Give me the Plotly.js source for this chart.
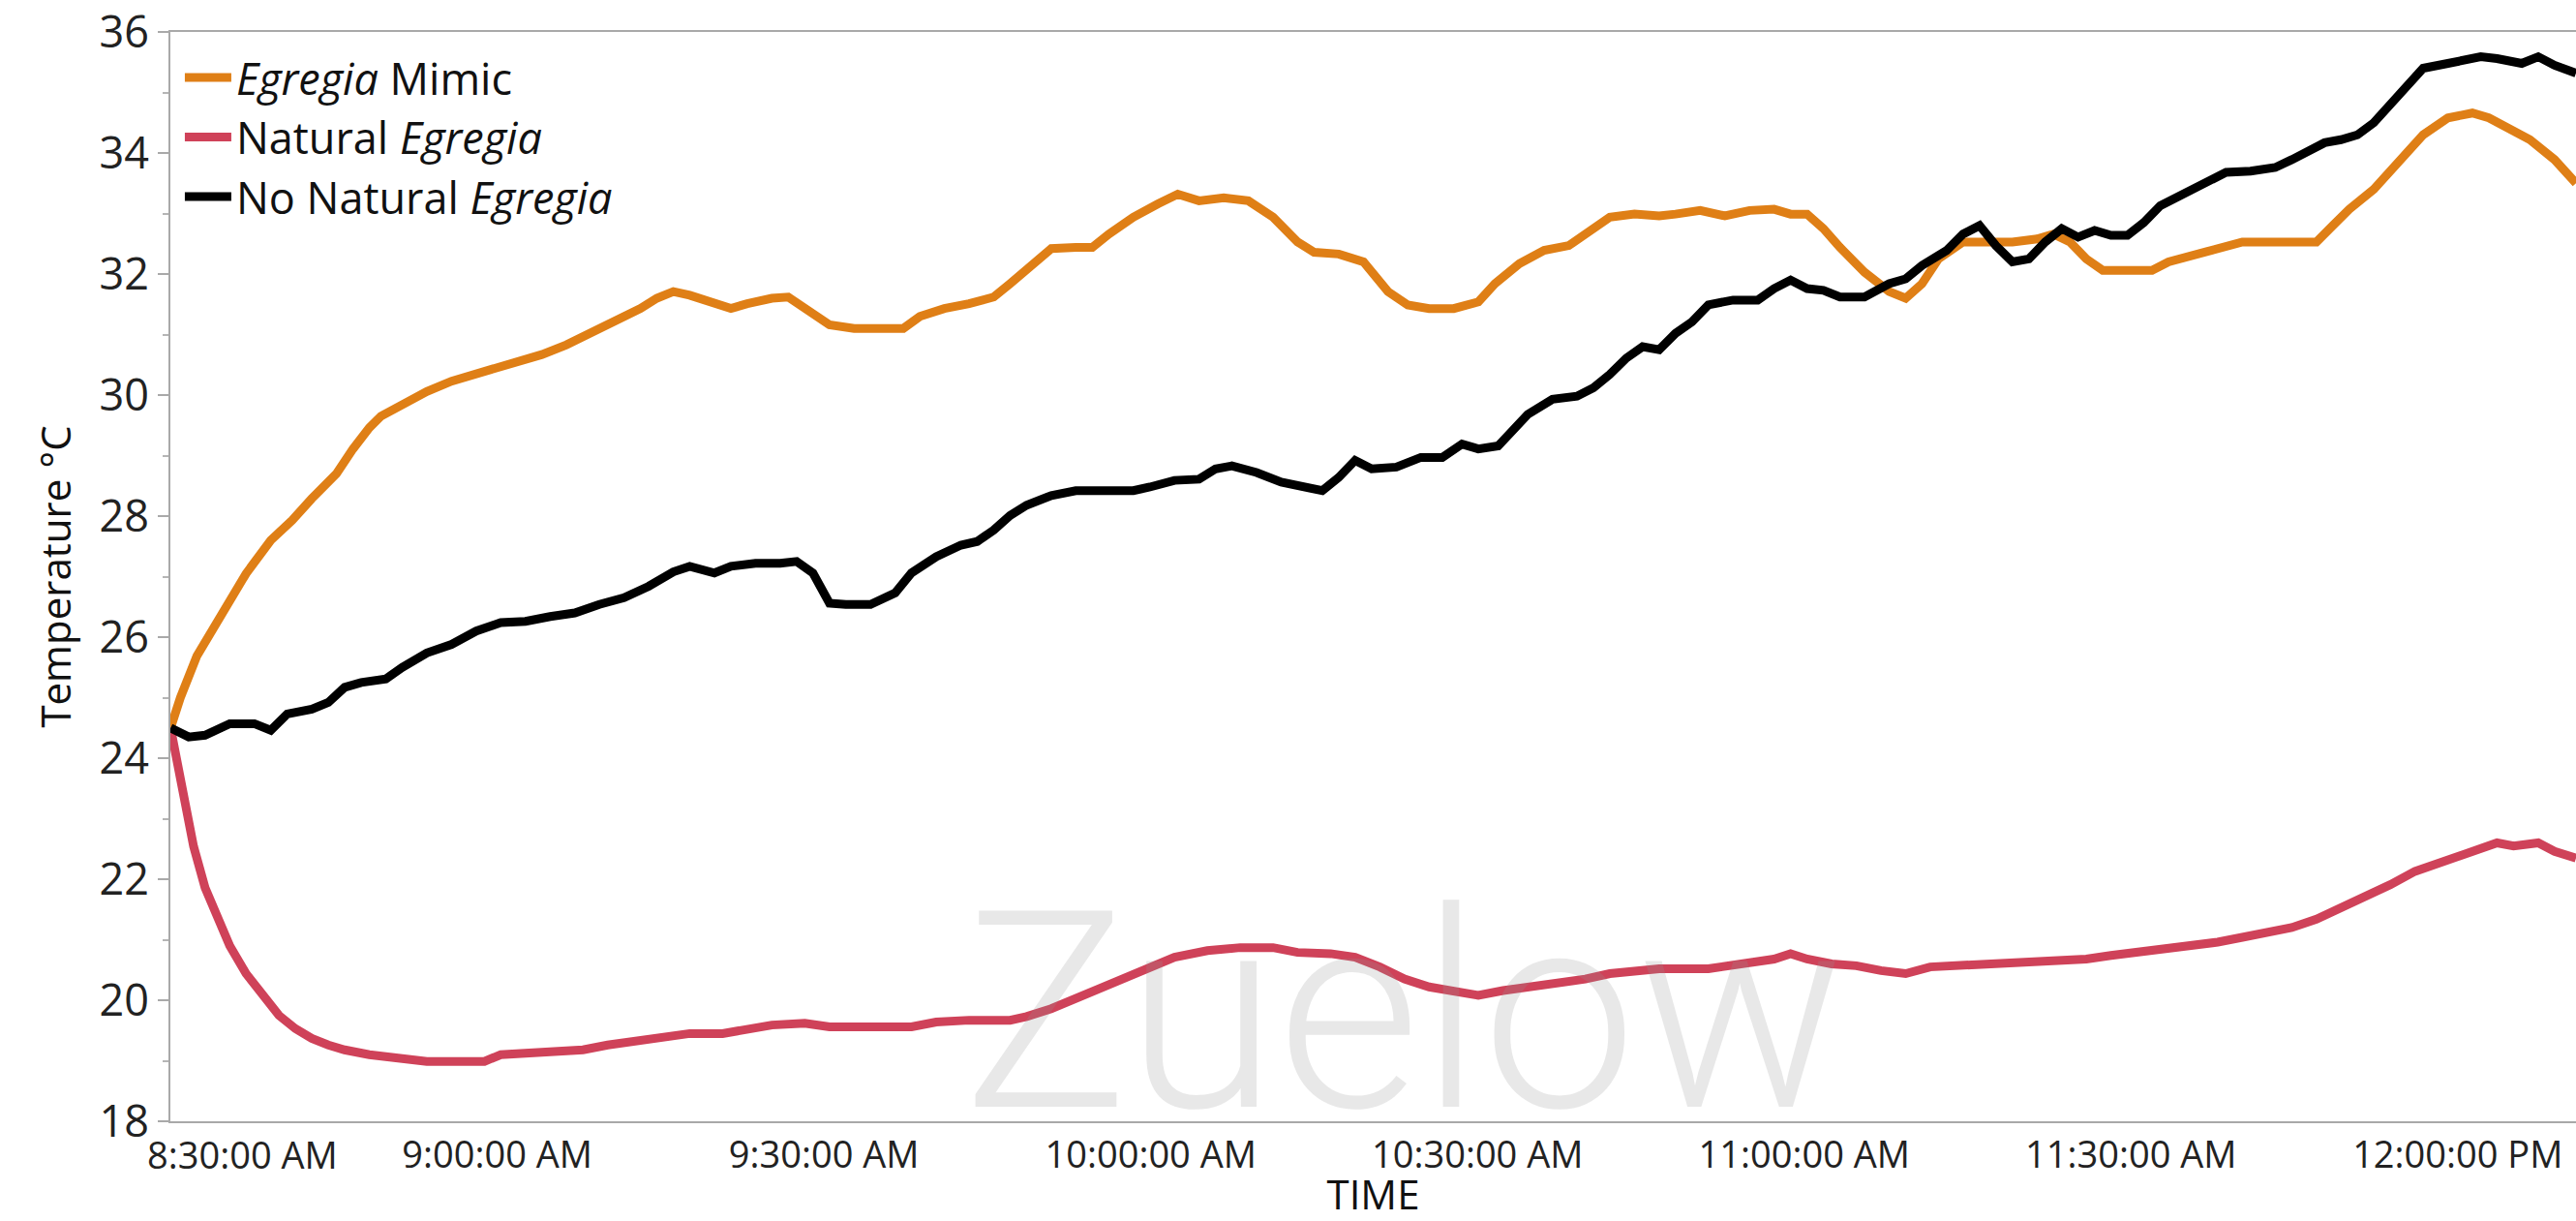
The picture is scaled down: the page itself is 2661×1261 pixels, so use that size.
<!DOCTYPE html>
<html>
<head>
<meta charset="utf-8">
<script src="https://cdn.plot.ly/plotly-3.0.1.min.js"></script>
<style>
  html, body { margin: 0; padding: 0; background: #ffffff; overflow: hidden; }
  #chart { width: 2661px; height: 1261px; }
</style>
</head>
<body>
<div id="chart"></div>
<script>
// ---------- data ----------
const DAY = "2000-01-01 ";

const seriesNames = ["<i>Egregia</i> Mimic", "Natural <i>Egregia</i>", "No Natural <i>Egregia</i>"];
const seriesColors = ["#DF7F16", "#CF4259", "#000000"];

const mimicTime = ["08:30:00","08:30:54","08:32:25","08:34:41","08:36:56","08:39:12","08:41:10","08:42:58","08:45:14","08:46:45","08:48:15","08:49:19","08:51:16","08:53:32","08:55:48","08:58:04","08:59:34","09:01:50","09:04:06","09:06:21","09:08:37","09:10:53","09:13:09","09:14:39","09:16:10","09:17:40","09:19:56","09:21:27","09:22:57","09:25:13","09:26:43","09:28:14","09:30:30","09:32:46","09:35:01","09:37:17","09:38:48","09:41:03","09:43:19","09:45:35","09:47:05","09:49:21","09:50:52","09:53:07","09:54:38","09:56:09","09:58:24","10:00:40","10:02:29","10:04:26","10:06:42","10:08:58","10:11:14","10:13:29","10:15:00","10:17:16","10:19:32","10:21:47","10:23:36","10:25:34","10:27:49","10:30:05","10:31:36","10:33:51","10:36:07","10:38:23","10:39:54","10:42:09","10:44:25","10:46:41","10:48:11","10:50:27","10:52:43","10:54:59","10:57:14","10:58:45","11:00:16","11:01:46","11:03:17","11:05:32","11:07:48","11:09:19","11:10:49","11:12:20","11:14:35","11:16:51","11:19:07","11:21:23","11:22:53","11:24:24","11:25:54","11:27:25","11:29:41","11:31:56","11:33:27","11:35:43","11:37:58","11:40:14","11:42:30","11:44:46","11:47:02","11:48:32","11:50:03","11:52:18","11:54:34","11:56:50","11:59:06","12:01:21","12:02:52","12:04:22","12:06:38","12:08:54","12:10:52"];
const mimicTemp = [24.5,25.0,25.69,26.37,27.05,27.6,27.93,28.29,28.7,29.11,29.46,29.65,29.85,30.06,30.23,30.34,30.42,30.56,30.67,30.83,31.02,31.21,31.43,31.6,31.71,31.65,31.54,31.43,31.51,31.6,31.62,31.43,31.16,31.1,31.1,31.1,31.3,31.43,31.51,31.62,31.84,32.17,32.42,32.44,32.44,32.66,32.94,33.16,33.32,33.21,33.26,33.21,32.94,32.53,32.36,32.33,32.2,31.71,31.49,31.43,31.43,31.54,31.84,32.17,32.39,32.47,32.66,32.94,32.99,32.96,32.99,33.05,32.96,33.05,33.07,32.99,32.99,32.75,32.44,32.03,31.71,31.6,31.84,32.25,32.53,32.53,32.53,32.58,32.66,32.53,32.25,32.06,32.06,32.06,32.2,32.31,32.39,32.53,32.53,32.53,32.53,32.8,33.07,33.4,33.84,34.3,34.58,34.66,34.58,34.44,34.22,33.89,33.5];

const naturalTime = ["08:30:00","08:30:36","08:31:21","08:32:07","08:33:10","08:34:22","08:35:26","08:36:56","08:38:27","08:39:57","08:41:28","08:42:58","08:44:29","08:45:59","08:48:15","08:50:31","08:53:32","08:56:33","08:58:49","09:00:19","09:02:35","09:05:36","09:07:52","09:10:08","09:12:24","09:14:39","09:17:40","09:20:41","09:22:57","09:25:13","09:28:14","09:30:30","09:34:16","09:38:02","09:40:18","09:43:19","09:47:05","09:48:36","09:50:52","09:53:07","09:55:23","09:57:39","09:59:55","10:02:11","10:05:12","10:08:13","10:11:14","10:13:29","10:16:31","10:18:46","10:21:02","10:23:18","10:25:34","10:27:49","10:30:05","10:32:21","10:34:37","10:37:38","10:39:54","10:42:09","10:44:25","10:46:41","10:51:12","10:53:28","10:54:59","10:57:14","10:58:45","11:00:16","11:02:31","11:04:47","11:07:03","11:09:19","11:11:34","11:13:50","11:16:51","11:19:07","11:21:23","11:23:39","11:25:54","11:28:10","11:30:26","11:33:27","11:35:43","11:37:58","11:40:14","11:42:30","11:44:46","11:47:02","11:49:17","11:51:33","11:53:49","11:56:05","11:58:20","12:00:36","12:02:07","12:03:37","12:05:08","12:07:24","12:08:54","12:10:52"];
const naturalTemp = [24.5,23.91,23.23,22.54,21.86,21.31,20.9,20.44,20.08,19.75,19.53,19.37,19.26,19.18,19.1,19.04,18.99,18.99,18.99,19.1,19.12,19.15,19.18,19.26,19.32,19.4,19.45,19.45,19.51,19.59,19.62,19.56,19.56,19.56,19.64,19.67,19.67,19.73,19.86,20.03,20.19,20.38,20.57,20.71,20.82,20.87,20.87,20.79,20.77,20.71,20.55,20.35,20.22,20.14,20.08,20.16,20.22,20.27,20.35,20.44,20.49,20.52,20.52,20.57,20.6,20.68,20.77,20.68,20.6,20.57,20.49,20.44,20.55,20.57,20.6,20.63,20.66,20.68,20.68,20.74,20.79,20.85,20.9,20.96,21.04,21.12,21.2,21.34,21.53,21.69,21.91,22.13,22.27,22.41,22.52,22.6,22.55,22.6,22.46,22.35];

const noNaturalTime = ["08:30:00","08:31:40","08:33:10","08:35:26","08:37:42","08:39:12","08:40:43","08:42:58","08:44:29","08:45:59","08:47:30","08:49:46","08:51:16","08:53:32","08:55:48","08:58:04","09:00:19","09:02:35","09:04:51","09:07:07","09:09:22","09:11:38","09:13:54","09:16:10","09:17:40","09:19:56","09:21:27","09:23:42","09:25:58","09:27:29","09:28:59","09:30:30","09:32:00","09:34:16","09:36:32","09:38:02","09:40:18","09:42:34","09:44:04","09:45:35","09:47:05","09:48:36","09:50:52","09:53:07","09:55:23","09:58:24","09:59:55","10:02:11","10:04:26","10:05:57","10:07:27","10:09:43","10:11:59","10:13:29","10:15:45","10:17:16","10:18:46","10:20:17","10:22:33","10:24:48","10:26:46","10:28:35","10:30:05","10:31:54","10:33:06","10:34:37","10:36:53","10:39:08","10:40:39","10:42:09","10:43:40","10:45:10","10:46:41","10:48:11","10:49:42","10:51:12","10:53:28","10:55:44","10:57:14","10:58:45","11:00:16","11:01:46","11:03:17","11:05:32","11:07:48","11:09:19","11:10:49","11:13:05","11:14:35","11:16:06","11:17:36","11:19:07","11:20:38","11:22:08","11:23:39","11:25:09","11:26:40","11:28:10","11:29:41","11:31:11","11:32:42","11:34:57","11:37:13","11:38:44","11:40:59","11:43:15","11:44:46","11:46:16","11:47:47","11:49:17","11:50:48","11:52:18","11:54:34","11:56:50","11:59:06","12:00:36","12:02:07","12:03:37","12:05:53","12:07:24","12:08:54","12:10:52"];
const noNaturalTemp = [24.5,24.35,24.38,24.57,24.57,24.46,24.73,24.81,24.92,25.17,25.25,25.31,25.5,25.74,25.88,26.1,26.24,26.26,26.34,26.4,26.54,26.65,26.84,27.08,27.17,27.06,27.17,27.22,27.22,27.25,27.06,26.56,26.54,26.54,26.73,27.06,27.33,27.52,27.58,27.77,28.01,28.18,28.34,28.42,28.42,28.42,28.48,28.59,28.61,28.78,28.83,28.72,28.56,28.51,28.42,28.64,28.92,28.78,28.81,28.97,28.97,29.19,29.11,29.16,29.38,29.68,29.93,29.98,30.12,30.34,30.61,30.8,30.75,31.02,31.21,31.49,31.57,31.57,31.76,31.9,31.76,31.73,31.62,31.62,31.84,31.92,32.14,32.39,32.66,32.8,32.47,32.2,32.25,32.53,32.75,32.61,32.72,32.64,32.64,32.85,33.13,33.35,33.57,33.68,33.7,33.76,33.89,34.03,34.17,34.22,34.3,34.5,34.93,35.4,35.48,35.54,35.59,35.56,35.48,35.59,35.45,35.32];

const tickTimes = ["08:30:00","09:00:00","09:30:00","10:00:00","10:30:00","11:00:00","11:30:00","12:00:00"];
const tickLabels = ["8:30:00 AM","9:00:00 AM","9:30:00 AM","10:00:00 AM","10:30:00 AM","11:00:00 AM","11:30:00 AM","12:00:00 PM"];
const xRange = ["08:29:59", "12:10:52"];
const yRange = [18, 36];

const xTitle = "TIME";
const yTitle = "Temperature °C";
const watermark = "Zuelow";

// ---------- build ----------
const toDate = arr => arr.map(t => DAY + t);
const FONT = "'Open Sans', 'Noto Sans', sans-serif";
const TICKFONT = { family: FONT, size: 38, color: "#222222" };

const timeArrays = [mimicTime, naturalTime, noNaturalTime];
const tempArrays = [mimicTemp, naturalTemp, noNaturalTemp];

const traces = seriesNames.map((name, i) => ({
  type: "scatter",
  mode: "lines",
  name: name,
  x: toDate(timeArrays[i]),
  y: tempArrays[i],
  line: { color: seriesColors[i], width: 9, shape: "linear" },
  hoverinfo: "x+y+name"
}));

// The first label is drawn nudged right of its tick (inside the axis extent), as in the reference.
const tickText = tickLabels.map((s, i) => (i === 0 ? "" : s));

const layout = {
  width: 2661,
  height: 1261,
  margin: { l: 176, r: 0, t: 33, b: 103, pad: 0 },
  paper_bgcolor: "#ffffff",
  plot_bgcolor: "#ffffff",
  font: { family: FONT, color: "#222222" },
  showlegend: true,
  legend: {
    x: 0.004, y: 0.99, xanchor: "left", yanchor: "top",
    bgcolor: "rgba(0,0,0,0)",
    font: { family: FONT, size: 45, color: "#111111" },
    itemwidth: 48,
    tracegroupgap: 0
  },
  xaxis: {
    type: "date",
    range: toDate(xRange),
    tickmode: "array",
    tickvals: toDate(tickTimes),
    ticktext: tickText,
    ticks: "",
    showgrid: false,
    zeroline: false,
    showline: true,
    mirror: true,
    linecolor: "#a9a9a9",
    linewidth: 2,
    tickfont: TICKFONT,
    title: { text: xTitle, font: { family: FONT, size: 42, color: "#111111" }, standoff: 30 }
  },
  yaxis: {
    range: yRange,
    dtick: 2,
    tick0: 18,
    ticks: "outside",
    ticklen: 11,
    tickwidth: 2,
    tickcolor: "#a9a9a9",
    minor: { ticks: "outside", ticklen: 6, tickwidth: 2, tickcolor: "#b5b5b5", dtick: 1, tick0: 18 },
    showgrid: false,
    zeroline: false,
    showline: true,
    linecolor: "#a9a9a9",
    linewidth: 2,
    tickfont: { family: FONT, size: 45, color: "#222222" },
    title: { text: yTitle, font: { family: FONT, size: 42, color: "#111111" }, standoff: 16 }
  },
  annotations: [
    {
      text: watermark,
      xref: "paper", yref: "paper",
      x: 0.513, y: 0.1,
      xanchor: "center", yanchor: "middle",
      showarrow: false,
      font: { family: "Roboto, 'Open Sans', sans-serif", size: 285, weight: 300, color: "rgba(150,150,150,0.22)" }
    },
    {
      text: tickLabels[0],
      xref: "x", yref: "paper",
      x: DAY + tickTimes[0], y: 0,
      xanchor: "center", yanchor: "middle",
      xshift: 74, yshift: -34,
      showarrow: false,
      font: TICKFONT
    }
  ]
};

Plotly.newPlot("chart", traces, layout, { displayModeBar: false, responsive: false });
</script>
</body>
</html>
